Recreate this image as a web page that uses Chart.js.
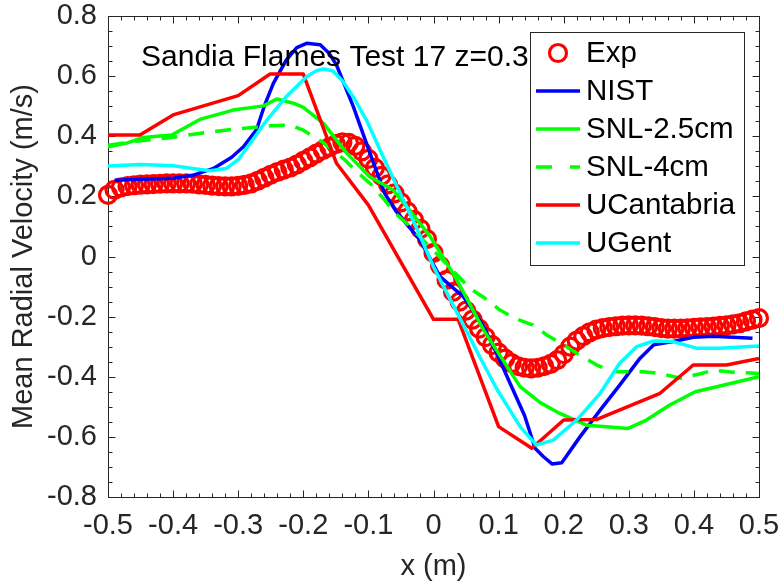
<!DOCTYPE html>
<html><head><meta charset="utf-8">
<script src="https://cdn.jsdelivr.net/npm/chart.js@4.4.1/dist/chart.umd.min.js"></script>
<style>html,body{margin:0;padding:0;background:#fff}#wrap{width:782px;height:586px}</style>
</head><body><div id="wrap"><canvas id="c" width="782" height="586"></canvas></div>
<script>
// ---- data ----
const seriesNames = ['Exp','NIST','SNL-2.5cm','SNL-4cm','UCantabria','UGent'];
const titleText = 'Sandia Flames Test 17 z=0.3';
const xAxisTitle = 'x (m)';
const yAxisTitle = 'Mean Radial Velocity (m/s)';

const expX = [-0.50,-0.49,-0.48,-0.47,-0.46,-0.45,-0.44,-0.43,-0.42,-0.41,
 -0.40,-0.39,-0.38,-0.37,-0.36,-0.35,-0.34,-0.33,-0.32,-0.31,
 -0.30,-0.29,-0.28,-0.27,-0.26,-0.25,-0.24,-0.23,-0.22,-0.21,
 -0.20,-0.19,-0.18,-0.17,-0.16,-0.15,-0.14,-0.13,-0.12,-0.11,
 -0.10,-0.09,-0.08,-0.07,-0.06,-0.05,-0.04,-0.03,-0.02,-0.01,
 0.00,0.01,0.02,0.03,0.04,0.05,0.06,0.07,0.08,0.09,
 0.10,0.11,0.12,0.13,0.14,0.15,0.16,0.17,0.18,0.19,
 0.20,0.21,0.22,0.23,0.24,0.25,0.26,0.27,0.28,0.29,
 0.30,0.31,0.32,0.33,0.34,0.35,0.36,0.37,0.38,0.39,
 0.40,0.41,0.42,0.43,0.44,0.45,0.46,0.47,0.48,0.49,
 0.50];
const expY = [0.205,0.222,0.230,0.234,0.237,0.239,0.240,0.241,0.242,0.243,
 0.243,0.243,0.243,0.242,0.240,0.238,0.236,0.234,0.233,0.233,
 0.235,0.238,0.243,0.252,0.262,0.272,0.281,0.289,0.296,0.306,
 0.318,0.330,0.342,0.354,0.364,0.374,0.380,0.378,0.368,0.350,
 0.325,0.295,0.268,0.240,0.210,0.180,0.150,0.122,0.092,0.058,
 0.012,-0.030,-0.078,-0.118,-0.150,-0.180,-0.210,-0.240,-0.268,-0.295,
 -0.320,-0.340,-0.355,-0.365,-0.370,-0.372,-0.370,-0.365,-0.357,-0.345,
 -0.325,-0.300,-0.280,-0.265,-0.252,-0.243,-0.238,-0.235,-0.232,-0.230,
 -0.229,-0.229,-0.230,-0.232,-0.235,-0.238,-0.240,-0.240,-0.240,-0.239,
 -0.237,-0.236,-0.235,-0.233,-0.231,-0.229,-0.226,-0.222,-0.216,-0.210,
 -0.205];

const nistX = [-0.49,-0.40,-0.37,-0.338,-0.31,-0.292,-0.272,-0.26,-0.246,-0.226,-0.21,-0.195,-0.174,-0.16,-0.149,-0.123,-0.092,-0.075,-0.057,-0.021,0.01,0.046,0.075,0.097,0.12,0.14,0.156,0.169,0.182,0.197,0.225,0.256,0.286,0.317,0.338,0.368,0.399,0.43,0.49];
const nistY = [0.254,0.26,0.27,0.293,0.33,0.365,0.421,0.50,0.576,0.654,0.695,0.709,0.704,0.675,0.637,0.498,0.31,0.21,0.149,0.055,-0.067,-0.134,-0.225,-0.322,-0.433,-0.53,-0.638,-0.666,-0.69,-0.686,-0.6,-0.511,-0.428,-0.339,-0.294,-0.283,-0.269,-0.265,-0.272];

const snl25X = [-0.5,-0.47,-0.446,-0.402,-0.359,-0.308,-0.261,-0.241,-0.215,-0.2,-0.169,-0.133,-0.098,-0.062,-0.041,-0.005,0.036,0.077,0.133,0.164,0.194,0.235,0.266,0.299,0.327,0.363,0.402,0.44,0.5];
const snl25Y = [0.365,0.378,0.396,0.404,0.456,0.487,0.501,0.524,0.51,0.496,0.443,0.343,0.265,0.221,0.166,0.066,-0.078,-0.245,-0.433,-0.486,-0.522,-0.561,-0.566,-0.572,-0.544,-0.494,-0.45,-0.431,-0.4];

const snl4X = [-0.5,-0.45,-0.40,-0.35,-0.30,-0.25,-0.22,-0.20,-0.17,-0.136,-0.118,-0.095,-0.077,-0.059,-0.041,0.0,0.056,0.079,0.102,0.125,0.153,0.174,0.2,0.22,0.251,0.276,0.322,0.35,0.379,0.41,0.43,0.46,0.5];
const snl4Y = [0.37,0.385,0.397,0.412,0.425,0.435,0.437,0.42,0.38,0.321,0.282,0.238,0.193,0.144,0.11,0.02,-0.106,-0.139,-0.178,-0.206,-0.228,-0.261,-0.294,-0.322,-0.361,-0.383,-0.383,-0.39,-0.405,-0.39,-0.378,-0.385,-0.389];

const ucX = [-0.5,-0.451,-0.4,-0.3,-0.251,-0.2,-0.149,-0.1,0.0,0.038,0.1,0.151,0.2,0.251,0.348,0.399,0.45,0.5];
const ucY = [0.404,0.404,0.471,0.535,0.607,0.607,0.31,0.171,-0.209,-0.209,-0.566,-0.638,-0.544,-0.542,-0.455,-0.361,-0.361,-0.339];

const ugX = [-0.5,-0.45,-0.40,-0.37,-0.343,-0.318,-0.30,-0.287,-0.256,-0.226,-0.195,-0.18,-0.169,-0.155,-0.14,-0.123,-0.103,-0.077,-0.051,-0.025,0.0,0.025,0.05,0.075,0.097,0.133,0.158,0.184,0.22,0.256,0.286,0.312,0.338,0.368,0.404,0.44,0.5];
const ugY = [0.301,0.306,0.302,0.293,0.285,0.293,0.322,0.36,0.454,0.532,0.598,0.618,0.624,0.618,0.585,0.53,0.454,0.33,0.21,0.09,-0.034,-0.14,-0.245,-0.35,-0.44,-0.566,-0.627,-0.611,-0.544,-0.455,-0.355,-0.3,-0.281,-0.283,-0.305,-0.305,-0.298];

const xMin = -0.5, xMax = 0.5, xStep = 0.1, xMinor = 0.02;
const yMin = -0.8, yMax = 0.8, yStep = 0.2, yMinor = 0.05;

// ---- chart ----
const pts = (xs, ys) => xs.map((x, i) => ({x: x, y: ys[i]}));
const FONT = "'Liberation Sans', Arial, Helvetica, sans-serif";
const AXC = '#262626';
Chart.defaults.font.family = FONT;

const lineDs = (label, xs, ys, color, order, dash) => ({
  label: label, data: pts(xs, ys), borderColor: color, backgroundColor: color,
  borderWidth: 3.5, pointRadius: 0, tension: 0, fill: false, order: order,
  borderDash: dash || [], borderCapStyle: 'butt', borderJoinStyle: 'round'
});

const datasets = [
  { label: seriesNames[0], data: pts(expX, expY), showLine: false, borderColor: '#ff0000',
    backgroundColor: 'rgba(0,0,0,0)', pointRadius: 8.5, pointBorderWidth: 3.2, pointStyle: 'circle',
    order: 5, clip: false },
  lineDs(seriesNames[1], nistX, nistY, '#0000ff', 4),
  lineDs(seriesNames[2], snl25X, snl25Y, '#00ff00', 3),
  lineDs(seriesNames[3], snl4X, snl4Y, '#00ff00', 2, [16, 11]),
  lineDs(seriesNames[4], ucX, ucY, '#ff0000', 1),
  lineDs(seriesNames[5], ugX, ugY, '#00ffff', 0)
];

const fmt = v => String(Number(Number(v).toFixed(2)));
const noPad = s => { s.paddingTop = 0; s.paddingBottom = 0; s.paddingLeft = 0; s.paddingRight = 0; };

const framePlugin = {
  id: 'frame',
  beforeDatasetsDraw(chart) {
    const {ctx, chartArea: a, scales} = chart;
    const L = Math.round(a.left) + 0.5, R = Math.round(a.right) + 0.5;
    const T = Math.round(a.top) + 0.5, B = Math.round(a.bottom) + 0.5;
    ctx.save();
    ctx.strokeStyle = AXC; ctx.lineWidth = 1;
    ctx.strokeRect(L, T, R - L, B - T);
    ctx.beginPath();
    const nx = Math.round((xMax - xMin) / xMinor);
    for (let k = 0; k <= nx; k++) {
      const v = xMin + k * xMinor;
      const major = k % Math.round(xStep / xMinor) === 0;
      const len = major ? 7 : 4;
      const px = Math.round(scales.x.getPixelForValue(v)) + 0.5;
      ctx.moveTo(px, B); ctx.lineTo(px, B - len);
      ctx.moveTo(px, T); ctx.lineTo(px, T + len);
    }
    const ny = Math.round((yMax - yMin) / yMinor);
    for (let k = 0; k <= ny; k++) {
      const v = yMin + k * yMinor;
      const major = k % 4 === 0;
      const len = major ? 7 : 4;
      const py = Math.round(scales.y.getPixelForValue(v)) + 0.5;
      ctx.moveTo(L, py); ctx.lineTo(L + len, py);
      ctx.moveTo(R, py); ctx.lineTo(R - len, py);
    }
    ctx.stroke();
    ctx.restore();
  },
  afterDatasetsDraw(chart) {
    const {ctx, chartArea: a} = chart;
    ctx.save();
    // title inside the axes
    ctx.font = '30px ' + FONT;
    ctx.fillStyle = '#000';
    ctx.textBaseline = 'alphabetic';
    ctx.textAlign = 'left';
    ctx.fillText(titleText, a.left + 33, a.top + 50);
    // legend box
    const bx = 530.5, by = 32.5, bw = 214, bh = 233;
    ctx.fillStyle = '#fff';
    ctx.fillRect(bx, by, bw, bh);
    ctx.strokeStyle = AXC; ctx.lineWidth = 1;
    ctx.strokeRect(bx, by, bw, bh);
    const rowY = [53, 91, 129, 167, 205, 243];
    chart.data.datasets.forEach((ds, i) => {
      const y = rowY[i];
      if (i === 0) {
        ctx.beginPath();
        ctx.strokeStyle = ds.borderColor; ctx.lineWidth = 3.2;
        ctx.arc(558, y, 8.5, 0, Math.PI * 2);
        ctx.stroke();
      } else {
        ctx.beginPath();
        ctx.strokeStyle = ds.borderColor; ctx.lineWidth = 3.5;
        ctx.setLineDash(ds.borderDash && ds.borderDash.length ? [16, 18] : []);
        ctx.moveTo(536, y); ctx.lineTo(580, y);
        ctx.stroke();
        ctx.setLineDash([]);
      }
      ctx.fillStyle = '#000';
      ctx.textBaseline = 'middle';
      ctx.font = '29.5px ' + FONT;
      ctx.fillText(ds.label, 586, y + 1);
    });
    ctx.restore();
  }
};

new Chart(document.getElementById('c'), {
  type: 'line',
  data: { datasets: datasets },
  options: {
    responsive: false, animation: false, devicePixelRatio: 1,
    layout: { padding: { top: 16, right: 23, left: 0, bottom: 0 } },
    plugins: { legend: { display: false }, tooltip: { enabled: false } },
    scales: {
      x: {
        type: 'linear', min: xMin, max: xMax,
        ticks: { stepSize: xStep, color: AXC, font: { size: 29 }, padding: 12, maxRotation: 0, autoSkip: false, callback: fmt },
        grid: { display: false, drawTicks: false }, border: { display: false },
        title: { display: true, text: xAxisTitle, color: AXC, font: { size: 29 }, padding: { top: 0, bottom: 2 } },
        afterFit(s) { s.height = 89; noPad(s); }
      },
      y: {
        type: 'linear', min: yMin, max: yMax,
        ticks: { stepSize: yStep, color: AXC, font: { size: 29 }, padding: 11, autoSkip: false, callback: fmt },
        grid: { display: false, drawTicks: false }, border: { display: false },
        title: { display: true, text: yAxisTitle, color: AXC, font: { size: 29 }, padding: { top: 7, bottom: 0 } },
        afterFit(s) { s.width = 108; noPad(s); }
      }
    }
  },
  plugins: [framePlugin]
});
</script></body></html>
